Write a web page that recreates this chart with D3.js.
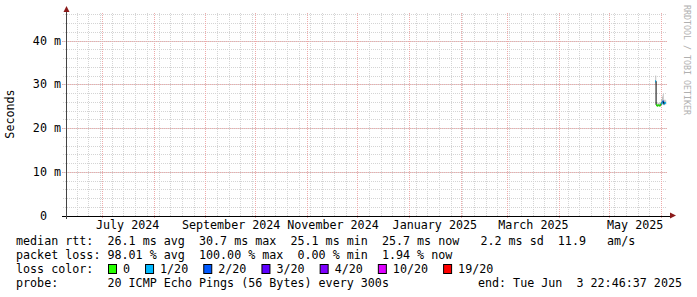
<!DOCTYPE html>
<html>
<head>
<meta charset="utf-8">
<script src="https://cdn.jsdelivr.net/npm/d3@7"></script>
<style>
  body { margin: 0; background: #fff; }
  text { font-family: "DejaVu Sans Mono", monospace; white-space: pre; }
</style>
</head>
<body>
<div id="chart"></div>
<script>
// samples near the end of the period (everything before is 100% loss)
var sampleTimes = ["2025-05-28T12:00", "2025-05-29T00:00", "2025-05-29T12:00", "2025-05-30T00:00",
                   "2025-05-30T12:00", "2025-05-31T00:00", "2025-05-31T12:00", "2025-06-01T00:00",
                   "2025-06-01T12:00", "2025-06-02T00:00", "2025-06-02T12:00", "2025-06-03T00:00",
                   "2025-06-03T12:00"];
var medianMs  = [30.7, 25.3, 25.1, 25.2, 25.2, 25.1, 25.3, 25.6, 25.9, 26.1, 25.5, 25.8, 25.7];
var lossCount = [1, 0, 0, 0, 0, 0, 0, 1, 1, 2, 1, 1, 1];
var smokeLow  = [30.2, 25.0, 24.9, 25.0, 25.0, 24.9, 25.0, 25.2, 25.4, 25.3, 25.2, 25.4, 25.4];
var smokeHigh = [32.0, 25.9, 25.6, 25.7, 25.8, 25.6, 25.9, 26.6, 27.2, 27.8, 26.4, 26.5, 26.3];

var lossLabels = ["0", "1/20", "2/20", "3/20", "4/20", "10/20", "19/20"];
var lossColors = ["#26ff00", "#00b8ff", "#0059ff", "#5e00ff", "#7e00ff", "#dd00ff", "#ff0000"];

var rttStats  = ["26.1 ms avg", "30.7 ms max", "25.1 ms min", "25.7 ms now", " 2.2 ms sd", "11.9   am/s"];
var lossStats = ["98.01 % avg", "100.00 % max", "0.00 % min", "1.94 % now"];
var probeText = "20 ICMP Echo Pings (56 Bytes) every 300s";
var endText   = "end: Tue Jun  3 22:46:37 2025";

var W = 697, H = 297, CW = 7.05, FS = "11.7px";

var svg = d3.select("#chart").append("svg").attr("width", W).attr("height", H);

var x = d3.scaleTime()
          .domain([new Date(2024, 5, 9, 14, 0), new Date(2025, 5, 3, 22, 46, 37)])
          .range([66, 666]);
var y = d3.scaleLinear().domain([0, 46.3]).range([215.5, 13]);

function px(v){ return Math.round(v) + 0.5; }

// grid
var grid = svg.append("g");
grid.selectAll("line.hmin").data(y.ticks(24)).enter().append("line")
    .attr("x1", 63).attr("x2", 667)
    .attr("y1", function(d){ return px(y(d)); }).attr("y2", function(d){ return px(y(d)); })
    .attr("stroke", "#d4d4d4").attr("stroke-dasharray", "1,1");
grid.selectAll("line.vmin").data(d3.timeSunday.range(x.domain()[0], x.domain()[1])).enter().append("line")
    .attr("y1", 13).attr("y2", 216)
    .attr("x1", function(d){ return px(x(d)); }).attr("x2", function(d){ return px(x(d)); })
    .attr("stroke", "#d4d4d4").attr("stroke-dasharray", "1,1");
grid.selectAll("line.hmaj").data(y.ticks(5)).enter().append("line")
    .attr("x1", 62).attr("x2", 667)
    .attr("y1", function(d){ return px(y(d)); }).attr("y2", function(d){ return px(y(d)); })
    .attr("stroke", "#eeaaaa").attr("stroke-dasharray", "1,1");
grid.selectAll("line.vmaj").data(d3.timeMonth.range(x.domain()[0], x.domain()[1])).enter().append("line")
    .attr("y1", 13).attr("y2", 218)
    .attr("x1", function(d){ return px(x(d)); }).attr("x2", function(d){ return px(x(d)); })
    .attr("stroke", "#eeaaaa").attr("stroke-dasharray", "1,1");

// data
var parse = d3.timeParse("%Y-%m-%dT%H:%M");
var pts = sampleTimes.map(function(t, i){
  return {t: parse(t), m: medianMs[i], l: lossCount[i], lo: smokeLow[i], hi: smokeHigh[i]};
});
var step = 12 * 3600 * 1000;

svg.selectAll("rect.smoke").data(pts).enter().append("rect")
    .attr("x", function(d){ return x(d.t); })
    .attr("width", function(d){ return Math.max(1, x(new Date(+d.t + step)) - x(d.t)); })
    .attr("y", function(d){ return y(d.hi); })
    .attr("height", function(d){ return y(d.lo) - y(d.hi); })
    .attr("fill", "#bdbdbd");

svg.append("path").datum(pts)
    .attr("d", d3.line().x(function(d){ return x(d.t); }).y(function(d){ return y(d.m); }).curve(d3.curveStepAfter))
    .attr("fill", "none").attr("stroke", "#000").attr("stroke-width", 1);

var lossIdx = function(l){ return l >= 19 ? 6 : l >= 10 ? 5 : l >= 4 ? 4 : l; };
svg.selectAll("line.med").data(pts).enter().append("line")
    .attr("x1", function(d){ return x(d.t); })
    .attr("x2", function(d){ return x(new Date(+d.t + step)); })
    .attr("y1", function(d){ return y(d.m); }).attr("y2", function(d){ return y(d.m); })
    .attr("stroke", function(d){ return lossColors[lossIdx(d.l)]; })
    .attr("stroke-width", 2);

// axes
svg.append("line").attr("x1", 62).attr("x2", 670).attr("y1", px(y(0))).attr("y2", px(y(0)))
   .attr("stroke", "#000");
svg.append("path").attr("d", "M670,212.5L676,215.5L670,218.5Z").attr("fill", "#8b1a1a");
svg.append("line").attr("x1", 66.5).attr("x2", 66.5).attr("y1", 219).attr("y2", 12)
   .attr("stroke", "#444");
svg.append("path").attr("d", "M63.5,12L66.5,6L69.5,12Z").attr("fill", "#8b1a1a");

// y labels
svg.selectAll("text.yl").data(y.ticks(5)).enter().append("text")
    .attr("x", function(d){ return d === 0 ? 47 : 61; })
    .attr("y", function(d){ return y(d) + 4; })
    .attr("text-anchor", "end").attr("font-size", FS).attr("fill", "#000")
    .text(function(d){ return d === 0 ? "0" : d + " m"; });

svg.append("text").attr("transform", "translate(14,114) rotate(-90)")
   .attr("text-anchor", "middle").attr("font-size", FS).text("Seconds");

// x labels (centred in mid-month, every second month)
var fmt = d3.timeFormat("%B %Y");
svg.selectAll("text.xl").data(d3.timeMonth.every(2).range(x.domain()[0], x.domain()[1])).enter().append("text")
    .attr("x", function(d){ return x(d3.timeHour.offset(d, 15 * 24 + 12)); })
    .attr("y", 229).attr("text-anchor", "middle").attr("font-size", FS)
    .text(function(d){ return fmt(d); });

// watermark
svg.append("text").attr("transform", "translate(684,5) rotate(90)")
   .attr("font-size", "8.3px").attr("fill", "#b0b0b0").text("RRDTOOL / TOBI OETIKER");

// legend
svg.append("text").attr("x", 16).attr("y", 245).attr("font-size", FS)
   .text("median rtt:  " + rttStats.join("  "));
svg.append("text").attr("x", 16).attr("y", 259).attr("font-size", FS)
   .text("packet loss: " + lossStats.join("  "));
svg.append("text").attr("x", 16).attr("y", 273).attr("font-size", FS).text("loss color:");
var lx = 108;
lossLabels.forEach(function(lab, i){
  svg.append("rect").attr("x", lx + 0.5).attr("y", 264.5).attr("width", 8).attr("height", 9)
     .attr("fill", lossColors[i]).attr("stroke", "#000");
  svg.append("text").attr("x", lx + 15).attr("y", 273).attr("font-size", FS).text(lab);
  lx += 15 + lab.length * CW + 15;
});
svg.append("text").attr("x", 16).attr("y", 287).attr("font-size", FS).text("probe:       " + probeText);
svg.append("text").attr("x", 682).attr("y", 287).attr("text-anchor", "end").attr("font-size", FS).text(endText);
</script>
</body>
</html>
